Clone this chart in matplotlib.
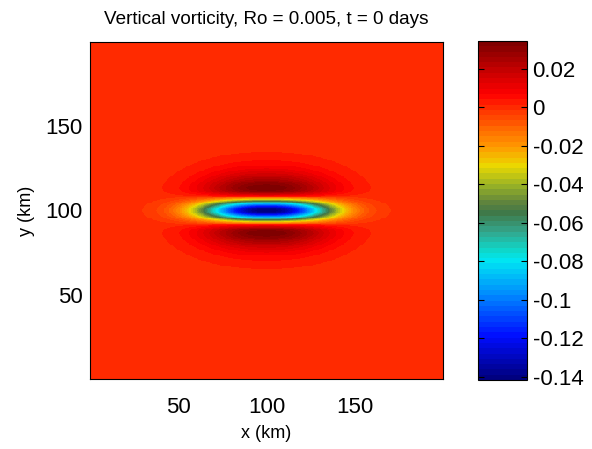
import numpy as np
import matplotlib
matplotlib.use("Agg")
import matplotlib.pyplot as plt
from matplotlib.colors import LinearSegmentedColormap, ListedColormap

# ---- data ----
title = "Vertical vorticity, Ro = 0.005, t = 0 days"
x_range = [0, 200]          # km
y_range = [0, 200]          # km
x_ticks = [50, 100, 150]
y_ticks = [50, 100, 150]
vortex_center = [100, 100]  # km
core_amp = -0.2166          # negative core (narrow in y)
core_ly = 7.32              # km
lobe_amp = 0.075            # positive flanks (broader in y)
lobe_ly = 17.5              # km
env_lx = 36.0               # along-x envelope scale, km
env_power = 2.3             # along-x envelope shape exponent
clim = [-0.1416, 0.0345]
cbar_ticks = [0.02, 0, -0.02, -0.04, -0.06, -0.08, -0.1, -0.12, -0.14]
cbar_labels = ["0.02", "0", "-0.02", "-0.04", "-0.06", "-0.08", "-0.1", "-0.12", "-0.14"]

# colormap anchors: value -> colour
cmap_values = [-0.1416, -0.12, -0.10, -0.08, -0.075, -0.065, -0.055, -0.05,
               -0.04, -0.03, -0.02, 0.0, 0.008, 0.02, 0.0345]
cmap_colors = [(0.0, 0.0, 0.5), (0.0, 0.05, 1.0), (0.0, 0.5, 1.0), (0.0, 0.9, 0.95),
               (0.05, 0.85, 0.8), (0.2, 0.65, 0.55), (0.25, 0.47, 0.28), (0.35, 0.5, 0.25),
               (0.6, 0.7, 0.15), (0.92, 0.85, 0.0), (1.0, 0.6, 0.0), (1.0, 0.2, 0.0),
               (1.0, 0.0, 0.0), (0.78, 0.0, 0.0), (0.5, 0.0, 0.0)]
n_colors = 64

# ---- field ----
x = np.linspace(x_range[0], x_range[1], 401)
y = np.linspace(y_range[0], y_range[1], 401)
X, Y = np.meshgrid(x, y)
dx = X - vortex_center[0]
dy = Y - vortex_center[1]
env = np.exp(-np.abs(dx / env_lx) ** env_power)
prof = core_amp * np.exp(-(dy / core_ly) ** 2) + lobe_amp * np.exp(-(dy / lobe_ly) ** 2)
Z = env * prof

pos = [(v - clim[0]) / (clim[1] - clim[0]) for v in cmap_values]
base = LinearSegmentedColormap.from_list("vort", list(zip(pos, cmap_colors)))
cmap = ListedColormap(base(np.linspace(0, 1, n_colors)))

plt.rcParams['font.family'] = ['Liberation Sans', 'DejaVu Sans']

fig = plt.figure(figsize=(5.92, 4.49), dpi=100)
ax = fig.add_axes([90 / 592, 1 - 379 / 449, 353 / 592, 337 / 449])
cax = fig.add_axes([478 / 592, 1 - 380 / 449, 49 / 592, 339 / 449])

im = ax.imshow(Z, extent=[x_range[0], x_range[1], y_range[0], y_range[1]], origin='lower',
               cmap=cmap, vmin=clim[0], vmax=clim[1], aspect='auto', interpolation='nearest')
ax.set_xlim(x_range)
ax.set_ylim(y_range)
ax.set_xticks(x_ticks)
ax.set_yticks(y_ticks)
ax.tick_params(axis='x', length=0, labelsize=16, pad=13)
ax.tick_params(axis='y', length=0, labelsize=16, pad=5.5)
ax.set_title(title, fontsize=13.6, pad=13)
ax.set_xlabel("x (km)", fontsize=13, labelpad=5)
ax.set_ylabel("y (km)", fontsize=13, labelpad=7)
for s in ax.spines.values():
    s.set_linewidth(0.8)

cb = fig.colorbar(im, cax=cax, ticks=cbar_ticks)
cb.ax.set_yticklabels(cbar_labels)
cb.ax.tick_params(axis='y', direction='in', left=True, right=True, length=4,
                  width=0.8, labelsize=16, pad=4)
cb.outline.set_linewidth(0.8)

fig.savefig("out.png", dpi=100)
